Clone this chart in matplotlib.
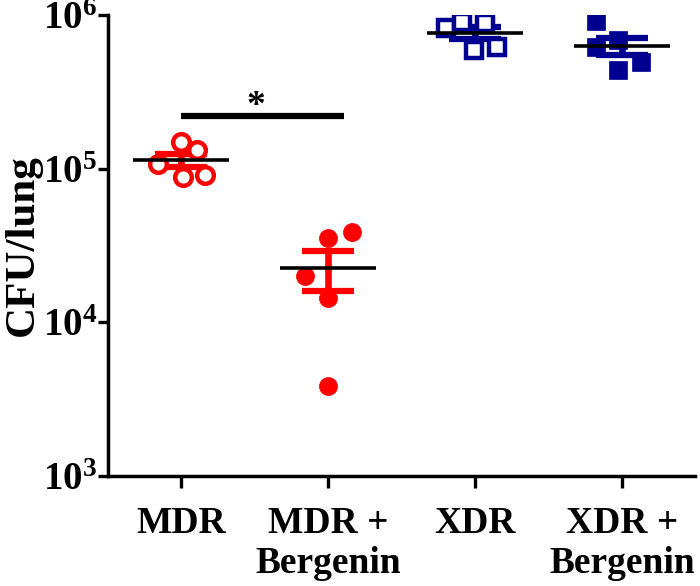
import numpy as np
import matplotlib
matplotlib.use('Agg')
import matplotlib.pyplot as plt

# ---------------- data ----------------
groups = ['MDR', 'MDR +\nBergenin', 'XDR', 'XDR +\nBergenin']
mdr = [1.49e5, 1.32e5, 1.08e5, 8.8e4, 9.1e4]
mdr_bergenin = [3.56e4, 3.90e4, 2.01e4, 1.45e4, 3.87e3]
xdr = [8.22e5, 9.0e5, 8.87e5, 5.91e5, 6.18e5]
xdr_bergenin = [9.14e5, 6.18e5, 6.87e5, 4.38e5, 4.94e5]

# horizontal scatter offsets (category units)
jitter_mdr = [0.0, 0.11, -0.16, 0.01, 0.16]
jitter_mdr_bergenin = [0.0, 0.16, -0.16, 0.0, 0.0]
jitter_xdr = [-0.20, -0.09, 0.07, -0.01, 0.15]
jitter_xdr_bergenin = [-0.18, -0.18, -0.03, -0.03, 0.13]

yticks = [1e3, 1e4, 1e5, 1e6]
ytick_labels = [r'$10^{3}$', r'$10^{4}$', r'$10^{5}$', r'$10^{6}$']
ylabel = 'CFU/lung'
sig_level = 2.19e5
sig_span = (0.0, 1.11)
sig_text = '*'

# ---------------- style ----------------
plt.rcParams['font.family'] = ['Liberation Serif', 'DejaVu Serif']
plt.rcParams['font.weight'] = 'bold'
plt.rcParams['mathtext.fontset'] = 'custom'
plt.rcParams['mathtext.rm'] = 'Liberation Serif:bold'
plt.rcParams['mathtext.bf'] = 'Liberation Serif:bold'
plt.rcParams['mathtext.it'] = 'Liberation Serif:bold'

RED = '#ff0000'
NAVY = '#000090'
series = [
    (mdr, jitter_mdr, RED, 'o', False),
    (mdr_bergenin, jitter_mdr_bergenin, RED, 'o', True),
    (xdr, jitter_xdr, NAVY, 's', False),
    (xdr_bergenin, jitter_xdr_bergenin, NAVY, 's', True),
]

fig = plt.figure(figsize=(7.0, 5.86), dpi=100)
ax = fig.add_axes([0.1543, 0.1877, 0.9929 - 0.1543, 0.9744 - 0.1877])
ax.set_yscale('log')

for i, (vals, jit, col, mk, filled) in enumerate(series):
    vals = np.asarray(vals)
    xs = i + np.asarray(jit)
    if filled:
        ax.plot(xs, vals, ls='none', marker=mk, ms=13, mfc=col, mec=col,
                mew=0.5, zorder=3)
    else:
        ax.plot(xs, vals, ls='none', marker=mk, ms=12, mfc='white',
                mec=col, mew=3.2, zorder=3)
    mean = vals.mean()
    sem = vals.std(ddof=1) / np.sqrt(len(vals))
    ax.errorbar([i], [mean], yerr=[[sem], [sem]], fmt='none', ecolor=col,
                elinewidth=4.8, capsize=19, capthick=4.5, zorder=2)
    ax.hlines(mean, i - 0.327, i + 0.327, color='black', lw=2.6, zorder=4)

# significance bar
ax.hlines(sig_level, sig_span[0], sig_span[1], color='black', lw=4.5, zorder=4)
ax.text(0.51, sig_level, sig_text, ha='center', va='baseline', fontsize=27,
        fontweight='bold')

ax.set_xlim(-0.497, 3.497)
ax.set_ylim(yticks[0], yticks[-1])
ax.set_xticks(range(len(groups)))
ax.set_xticklabels(groups, fontsize=27, fontweight='bold')
ax.set_yticks(yticks)
ax.set_yticklabels(ytick_labels, fontsize=28)
ax.yaxis.set_minor_locator(matplotlib.ticker.NullLocator())
ax.tick_params(axis='y', direction='out', length=7, width=2.4, pad=1)
ax.tick_params(axis='x', direction='out', length=8.5, width=2.4, pad=13)
ax.set_ylabel(ylabel, fontsize=31, fontweight='bold')
ax.yaxis.set_label_coords(-0.113, 0.5)

for s in ['top', 'right']:
    ax.spines[s].set_visible(False)
for s in ['left', 'bottom']:
    ax.spines[s].set_linewidth(2.5)

fig.savefig('out.png', dpi=100)
